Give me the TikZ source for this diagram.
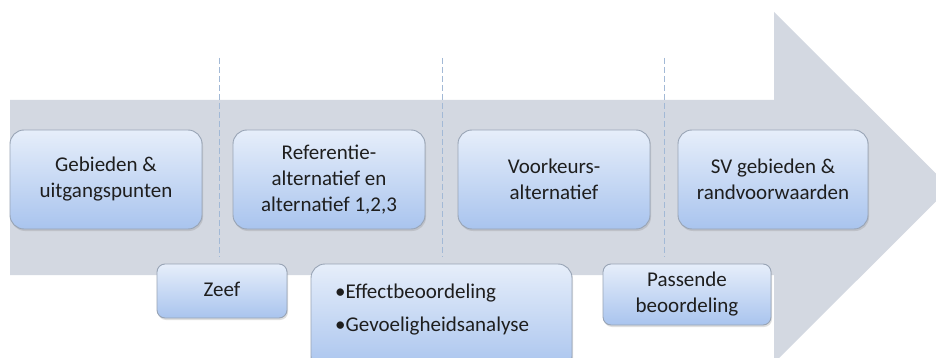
\documentclass[tikz,border=0pt]{standalone}
\usepackage{fontspec}
\setmainfont{Carlito}
\usetikzlibrary{shadows}
\definecolor{arrowfill}{HTML}{D3D8E1}
\definecolor{boxtop}{HTML}{E6EEFA}
\definecolor{boxbot}{HTML}{A9C4EE}
\definecolor{boxline}{HTML}{98A4B5}
\definecolor{dashcol}{HTML}{A2B9D6}
\definecolor{txt}{HTML}{1E1E1E}
\tikzset{
  stagebox/.style={draw=boxline, line width=0.9pt, rounded corners=14pt,
    top color=boxtop, bottom color=boxbot, text=txt, align=center,
    inner sep=0pt, font=\fontsize{21}{26}\selectfont,
    drop shadow={shadow xshift=1pt, shadow yshift=-2pt, opacity=0.25}},
  smallbox/.style={stagebox, rounded corners=8pt},
  divider/.style={draw=dashcol, line width=1pt, dash pattern=on 6pt off 3pt},
}
\begin{document}
\begin{tikzpicture}[x=1pt,y=-1pt]
\clip (0,0) rectangle (936,358);
\fill[white] (0,0) rectangle (936,358);
% big arrow
\fill[arrowfill] (10,100) -- (774,100) -- (774,12) -- (950,187.5) -- (774,363) -- (774,275) -- (10,275) -- cycle;
% dashed dividers
\coordinate (d1t) at (219,58); \coordinate (d1b) at (219,257);
\coordinate (d2t) at (442,58); \coordinate (d2b) at (442,257);
\coordinate (d3t) at (664,58); \coordinate (d3b) at (664,257);
\draw[divider] (d1t) -- (d1b);
\draw[divider] (d2t) -- (d2b);
\draw[divider] (d3t) -- (d3b);
% top row
\node[stagebox, minimum width=192pt, minimum height=99pt] (gebieden) at (106,179.5) {Gebieden \&\\uitgangspunten};
\node[stagebox, minimum width=192pt, minimum height=99pt] (referentie) at (329,179.5) {Referentie-\\alternatief en\\alternatief 1,2,3};
\node[stagebox, minimum width=192pt, minimum height=99pt] (voorkeur) at (554,179.5) {Voorkeurs-\\alternatief};
\node[stagebox, minimum width=190pt, minimum height=99pt] (sv) at (773,179.5) {SV gebieden \&\\randvoorwaarden};
% bottom row
\node[smallbox, minimum width=130pt, minimum height=54pt] (zeef) at (222,291) {\raisebox{3pt}{Zeef}};
\node[stagebox, minimum width=261pt, minimum height=106pt] (effect) at (441.5,317) {};
\node[text=txt, anchor=north west, align=left, inner sep=0pt, font=\fontsize{21}{33}\selectfont] (efftext) at (335,284) {•Effectbeoordeling\\•Gevoeligheidsanalyse};
\node[smallbox, minimum width=168pt, minimum height=61pt] (passende) at (687,294.5) {Passende\\beoordeling};
\end{tikzpicture}
\end{document}
